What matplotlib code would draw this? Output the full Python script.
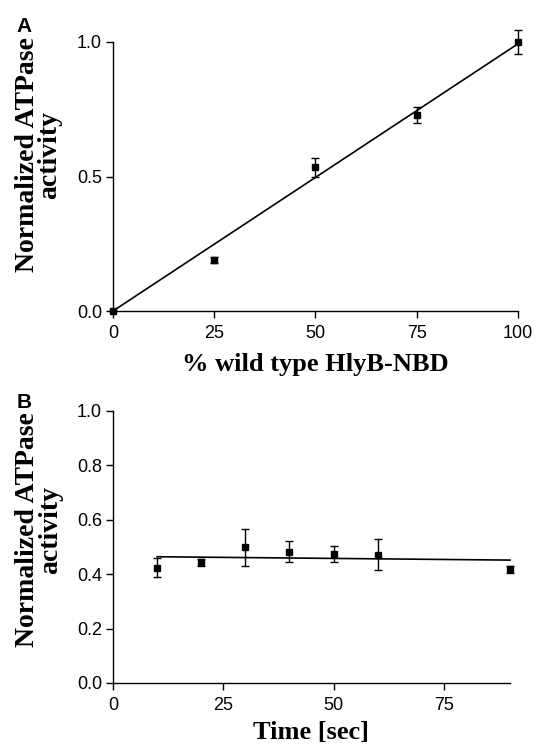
import numpy as np
import matplotlib
matplotlib.use('Agg')
import matplotlib.pyplot as plt

# Panel A: ATPase activity vs fraction of wild type
pct_wt = [0, 25, 50, 75, 100]
act_a = [0.0, 0.19, 0.535, 0.73, 1.0]
err_a = [0.0, 0.01, 0.035, 0.03, 0.045]

# Panel B: ATPase activity vs time
time_s = [10, 20, 30, 40, 50, 60, 90]
act_b = [0.424, 0.443, 0.499, 0.483, 0.474, 0.472, 0.418]
err_b = [0.034, 0.012, 0.068, 0.039, 0.028, 0.056, 0.012]

ylab = 'Normalized ATPase\nactivity'
tick_font = 'Liberation Sans'
label_font = 'Liberation Serif'

fig = plt.figure(figsize=(5.36, 7.46), dpi=100)
ax_a = fig.add_axes([0.2108, 0.5831, 0.7556, 0.3606])
ax_b = fig.add_axes([0.2108, 0.0845, 0.7407, 0.3646])


def style(ax):
    for s in ['top', 'right']:
        ax.spines[s].set_visible(False)
    for s in ['left', 'bottom']:
        ax.spines[s].set_linewidth(1.0)
    ax.tick_params(direction='out', length=5, width=1.0, labelsize=13, pad=3)
    ax.tick_params(axis='x', pad=5)
    for lab in ax.get_xticklabels() + ax.get_yticklabels():
        lab.set_fontfamily(tick_font)


def draw_points(ax, x, y, e):
    ax.errorbar(x, y, yerr=e, fmt='s', color='black', ms=4.5, capsize=2.7,
                elinewidth=1.0, capthick=1.0, clip_on=False, zorder=3)


# A: straight line through the origin
draw_points(ax_a, pct_wt, act_a, err_a)
xa = np.array(pct_wt, dtype=float)
ya = np.array(act_a)
slope = (xa * ya).sum() / (xa ** 2).sum()
ax_a.plot([0, 100], [0, slope * 100], color='black', lw=1.2, clip_on=False)
ax_a.set_xlim(0, 100)
ax_a.set_ylim(0, 1.0)
ax_a.set_xticks([0, 25, 50, 75, 100])
ax_a.set_yticks([0.0, 0.5, 1.0])
ax_a.set_yticklabels(['0.0', '0.5', '1.0'])
style(ax_a)
ax_a.set_xlabel('% wild type HlyB-NBD', fontfamily=label_font, fontweight='bold',
                fontsize=19, labelpad=8)
ax_a.set_ylabel(ylab, fontfamily=label_font, fontweight='bold', fontsize=20,
                linespacing=0.88)
ax_a.yaxis.set_label_coords(-0.125, 0.58)

# B: linear regression
draw_points(ax_b, time_s, act_b, err_b)
k, b = np.polyfit(time_s, act_b, 1)
xb = np.array([min(time_s), max(time_s)])
ax_b.plot(xb, k * xb + b, color='black', lw=1.2, clip_on=False)
ax_b.set_xlim(0, 90)
ax_b.set_ylim(0, 1.0)
ax_b.set_xticks([0, 25, 50, 75])
ax_b.set_yticks([0.0, 0.2, 0.4, 0.6, 0.8, 1.0])
ax_b.set_yticklabels(['0.0', '0.2', '0.4', '0.6', '0.8', '1.0'])
style(ax_b)
ax_b.set_xlabel('Time [sec]', fontfamily=label_font, fontweight='bold',
                fontsize=19, labelpad=5)
ax_b.set_ylabel(ylab, fontfamily=label_font, fontweight='bold', fontsize=20,
                linespacing=0.88)
ax_b.yaxis.set_label_coords(-0.126, 0.5625)

fig.text(0.031, 0.957, 'A', fontfamily=tick_font, fontweight='bold', fontsize=15, va='baseline')
fig.text(0.031, 0.453, 'B', fontfamily=tick_font, fontweight='bold', fontsize=15, va='baseline')

fig.savefig('out.png', dpi=100)
